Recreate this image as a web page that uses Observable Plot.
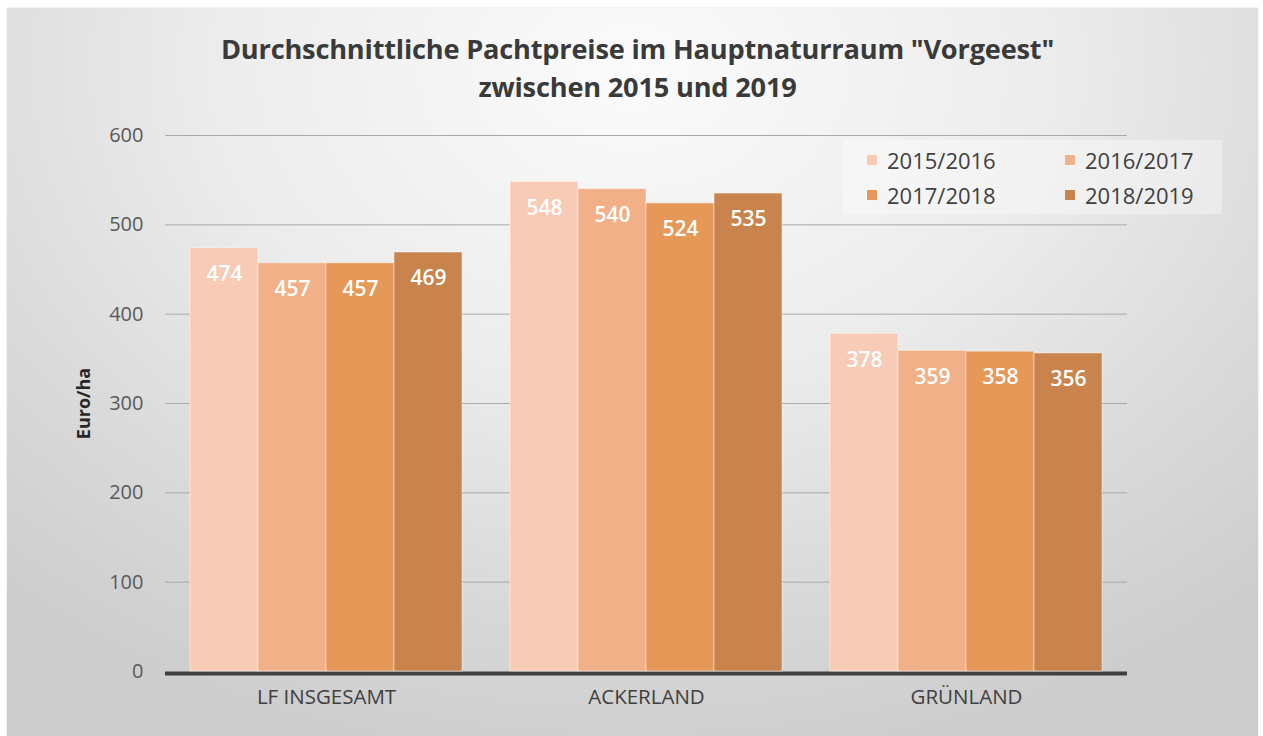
<!DOCTYPE html>
<html>
<head>
<meta charset="utf-8">
<script src="https://cdn.jsdelivr.net/npm/d3@7"></script>
<script src="https://cdn.jsdelivr.net/npm/@observablehq/plot@0.6"></script>
<style>
  html, body { margin: 0; padding: 0; background: #ffffff; }
  #wrap { position: relative; width: 1263px; height: 736px; overflow: hidden; font-family: "Open Sans", sans-serif; }
  #card { position: absolute; left: 7px; top: 8px; width: 1251px; height: 740px;
          background: radial-gradient(ellipse 75% 95% at 50% 8%, #fbfbfb 0%, #ececec 45%, #dadada 75%, #cdcdcd 100%);
          box-shadow: 0 0 2px rgba(0,0,0,0.15); }
  #title { position: relative; height: 105px; padding-top: 30px; box-sizing: border-box; text-align: center;
           font-weight: 700; font-size: 27.2px; line-height: 38px; color: #3a3a3a; letter-spacing: -0.2px; padding-left: 12px; }
  #chart { position: relative; width: 1263px; height: 631px; }
  #chart svg { position: absolute; left: 0; top: 0; }
  #legend { position: absolute; left: 843px; top: 140px; width: 379px; height: 74px; background: rgba(255,255,255,0.35);
            display: grid; grid-template-columns: 198px 181px; grid-template-rows: 35px 35px; padding-top: 2px; box-sizing: border-box; }
  .li { display: flex; align-items: center; font-size: 22px; color: #404040; }
  .sw { width: 10px; height: 10px; margin-left: 24px; margin-right: 10px; }
  svg text { font-family: "Open Sans", sans-serif; }
  g[aria-label="y-axis tick label"], g[aria-label="y-axis tick label"] text { font-size: 20px !important; }
  g[aria-label="fx-axis tick label"], g[aria-label="fx-axis tick label"] text { font-size: 20.5px !important; }
  g[aria-label="y-axis label"] text { font-weight: 700; font-size: 18px !important; fill: #262626; }
</style>
</head>
<body>
<div id="wrap">
  <div id="card"></div>
  <div id="title">Durchschnittliche Pachtpreise im Hauptnaturraum "Vorgeest"<br>zwischen 2015 und 2019</div>
  <div id="chart"></div>
  <div id="legend"></div>
</div>
<script>
const categories = ["LF INSGESAMT", "ACKERLAND", "GRÜNLAND"];
const years = ["2015/2016", "2016/2017", "2017/2018", "2018/2019"];
const values2015_16 = [474, 548, 378];
const values2016_17 = [457, 540, 359];
const values2017_18 = [457, 524, 358];
const values2018_19 = [469, 535, 356];
const colors = ["#f7cbb5", "#f2b089", "#e59858", "#c8844c"];
const yTicks = [0, 100, 200, 300, 400, 500, 600];

const series = [values2015_16, values2016_17, values2017_18, values2018_19];
const data = categories.flatMap((c, i) => years.map((y, j) => ({cat: c, year: y, value: series[j][i]})));

const common = {
  width: 1263,
  height: 631,
  marginTop: 30,
  marginBottom: 65,
  marginLeft: 165,
  marginRight: 136,
  style: {background: "transparent", fontFamily: "Open Sans, sans-serif", color: "#595959"}
};

// background layer: grid lines, y axis, baseline
const back = Plot.plot({
  ...common,
  y: {domain: [0, 600]},
  marks: [
    Plot.ruleY(yTicks.slice(1), {stroke: "#a9a9a9", strokeWidth: 1}),
    Plot.axisY({ticks: yTicks, tickSize: 0, tickPadding: 22, fontSize: 20, fill: "#595959",
                label: "Euro/ha", labelAnchor: "center", labelOffset: 88, labelArrow: "none"}),
    Plot.ruleY([0], {stroke: "#404040", strokeWidth: 4, dy: 2})
  ]
});

// front layer: grouped bars, value labels and category axis
const front = Plot.plot({
  ...common,
  fx: {domain: categories, paddingInner: 0.144, paddingOuter: 0.072, label: null},
  x: {domain: years, axis: null, padding: 0},
  y: {domain: [0, 600], axis: null},
  color: {domain: years, range: colors},
  marks: [
    Plot.barY(data, {fx: "cat", x: "year", y: "value", fill: "year", stroke: "#ffffff", strokeOpacity: 0.45, strokeWidth: 1}),
    Plot.text(data, {fx: "cat", x: "year", y: "value", text: d => String(d.value), dy: 26, fill: "#ffffff", fontSize: 21, fontWeight: 600}),
    Plot.axisFx({anchor: "bottom", tickSize: 0, tickPadding: 18, fontSize: 20.5, fill: "#404040", label: null})
  ]
});

const chart = document.getElementById("chart");
chart.appendChild(back);
chart.appendChild(front);

const legend = document.getElementById("legend");
years.forEach((y, j) => {
  const li = document.createElement("div");
  li.className = "li";
  const sw = document.createElement("span");
  sw.className = "sw";
  sw.style.background = colors[j];
  li.appendChild(sw);
  li.appendChild(document.createTextNode(y));
  legend.appendChild(li);
});
</script>
</body>
</html>
